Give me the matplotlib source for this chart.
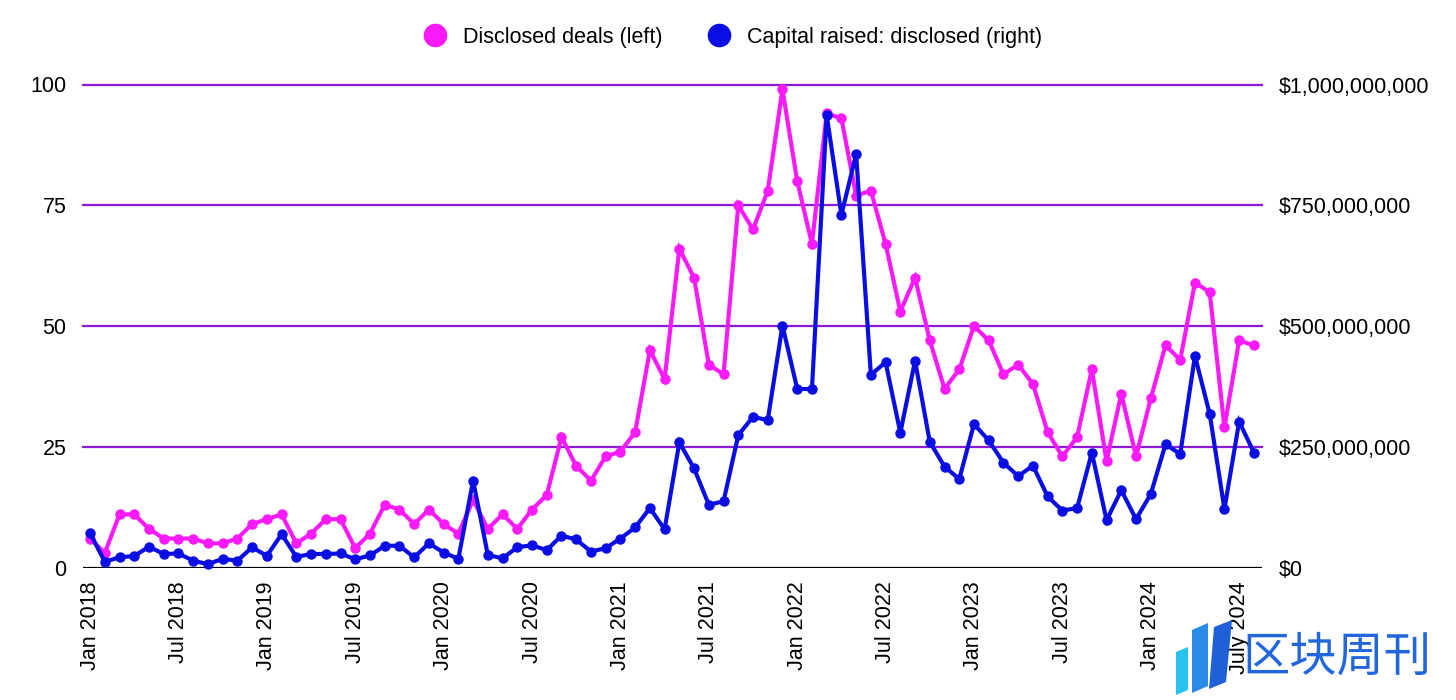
import matplotlib
matplotlib.use("Agg")
import matplotlib.pyplot as plt
from matplotlib.ticker import FuncFormatter, FixedLocator
from matplotlib.lines import Line2D
from matplotlib.patches import Polygon

plt.rcParams['font.family'] = ['Liberation Sans', 'DejaVu Sans']

# Monthly series, Jan 2018 .. Aug 2024
months = []
for y in range(2018, 2025):
    for m in ["Jan", "Feb", "Mar", "Apr", "May", "Jun", "Jul", "Aug", "Sep", "Oct", "Nov", "Dec"]:
        months.append(f"{m} {y}")
months = months[:80]

deals = [6, 3, 11, 11, 8, 6, 6, 6, 5, 5, 6, 9,
         10, 11, 5, 7, 10, 10, 4, 7, 13, 12, 9, 12,
         9, 7, 14, 8, 11, 8, 12, 15, 27, 21, 18, 23,
         24, 28, 45, 39, 66, 60, 42, 40, 75, 70, 78, 99,
         80, 67, 94, 93, 77, 78, 67, 53, 60, 47, 37, 41,
         50, 47, 40, 42, 38, 28, 23, 27, 41, 22, 36, 23,
         35, 46, 43, 59, 57, 29, 47, 46]

capital_m = [71, 12, 21, 24, 43, 28, 29, 14, 7, 18, 14, 42,
             24, 69, 22, 28, 28, 29, 17, 25, 45, 45, 21, 50,
             31, 18, 180, 26, 19, 42, 46, 36, 66, 58, 33, 40,
             60, 83, 123, 79, 259, 205, 130, 137, 274, 312, 305, 501,
             370, 369, 937, 730, 856, 399, 425, 279, 428, 260, 209, 183,
             297, 263, 217, 189, 211, 147, 118, 123, 238, 98, 160, 100,
             152, 255, 235, 438, 318, 121, 302, 238]
capital = [v * 1e6 for v in capital_m]

tick_idx = list(range(0, 80, 6))
tick_labels = [months[i] for i in tick_idx]
tick_labels[-1] = "July 2024"

left_ticks = [0, 25, 50, 75, 100]
right_ticks = [0, 250e6, 500e6, 750e6, 1000e6]

MAGENTA = "#f81af8"
BLUE = "#0a0ee2"
GRID = "#8c1bd6"
FS = 15.5

fig = plt.figure(figsize=(14.56, 7.0), dpi=100)
ax = fig.add_axes([83/1456, 1 - 567.5/700, 1179/1456, (567.5 - 84.5)/700])
ax2 = ax.twinx()

x = list(range(len(deals)))
ax.set_xlim(-0.48, 79.55)
ax.set_ylim(0, 100)
ax2.set_ylim(0, 1e9)

for v in left_ticks[1:]:
    ax.axhline(v, color=GRID, lw=1.6, zorder=1, clip_on=False)
ax.axhline(0, color="black", lw=1.6, zorder=1)

ax.plot(x, deals, color=MAGENTA, lw=3.0, marker="o", ms=6.5,
        solid_joinstyle="miter", zorder=3, clip_on=False)
ax2.plot(x, capital, color=BLUE, lw=3.0, marker="o", ms=6.5,
         solid_joinstyle="miter", zorder=3, clip_on=False)

for a in (ax, ax2):
    for s in a.spines.values():
        s.set_visible(False)
    a.tick_params(length=0)

ax.yaxis.set_major_locator(FixedLocator(left_ticks))
ax.set_yticklabels([str(v) for v in left_ticks], fontsize=FS)
ax.tick_params(axis="y", pad=12)
ax2.yaxis.set_major_locator(FixedLocator(right_ticks))
ax2.yaxis.set_major_formatter(FuncFormatter(lambda v, p: "${:,.0f}".format(v)))
ax2.tick_params(axis="y", labelsize=FS, pad=12)

ax.set_xticks(tick_idx)
ax.set_xticklabels(tick_labels, rotation=90, fontsize=FS)
ax.tick_params(axis="x", pad=10)

handles = [Line2D([], [], ls="none", marker="o", ms=16, color=MAGENTA),
           Line2D([], [], ls="none", marker="o", ms=16, color=BLUE)]
fig.legend(handles, ["Disclosed deals (left)", "Capital raised: disclosed (right)"],
           loc="center", bbox_to_anchor=(0.5, 1 - 37/700), ncol=2, frameon=False,
           fontsize=FS, handletextpad=0.3, columnspacing=1.6)

# watermark
def px(xp, yp):
    return (xp / 1456, 1 - yp / 700)

bars = [
    ([(1176, 652), (1188, 647), (1188, 690), (1176, 695)], "#27c3ee"),
    ([(1192, 630), (1208, 623), (1208, 686), (1192, 693)], "#2a8ae8"),
    ([(1214, 627), (1232, 620), (1226, 682), (1209, 689)], "#1f5fd8"),
]
for pts, col in bars:
    fig.patches.append(Polygon([px(*p) for p in pts], closed=True, facecolor=col,
                               edgecolor="none", transform=fig.transFigure, figure=fig))

fig.text(1242/1456, 1 - 657/700, "区块周刊", family=["Noto Sans CJK SC", "DejaVu Sans"],
         fontsize=34, color="#2266dd", va="center", ha="left", fontweight="medium")

fig.savefig("out.png", dpi=100)
